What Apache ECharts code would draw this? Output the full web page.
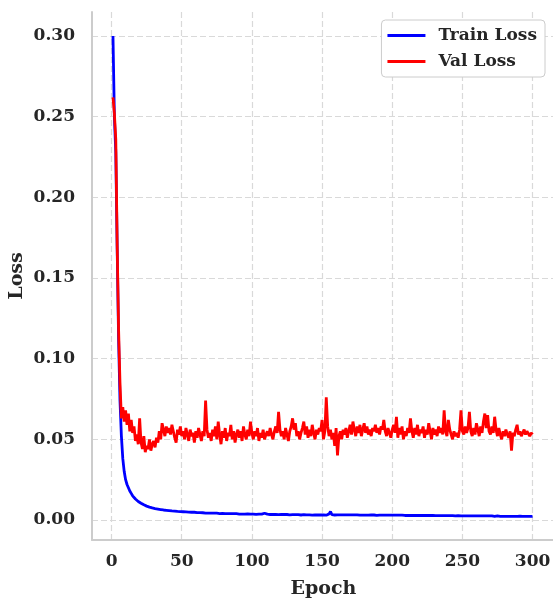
<!DOCTYPE html>
<html>
<head>
<meta charset="utf-8">
<script src="https://cdn.jsdelivr.net/npm/echarts@6/dist/echarts.min.js"></script>
<style>
  html, body { margin: 0; padding: 0; background: #fff; }
  #chart { width: 553px; height: 599px; }
</style>
</head>
<body>
<div id="chart"></div>
<script>
// losses, one value per epoch (1..300)
var trainLoss = [
  0.300, 0.250, 0.228, 0.168, 0.112, 0.074, 0.052, 0.038, 0.030, 0.025,
  0.022, 0.020, 0.018, 0.0165, 0.015, 0.014, 0.013, 0.0122, 0.0115, 0.011,
  0.0104, 0.0099, 0.0094, 0.0090, 0.0086, 0.0083, 0.0080, 0.0077, 0.0075, 0.0073,
  0.0071, 0.0069, 0.0068, 0.0066, 0.0065, 0.0063, 0.0062, 0.0061, 0.0060, 0.0059,
  0.0058, 0.0057, 0.0056, 0.0056, 0.0055, 0.0054, 0.0053, 0.0053, 0.0052, 0.0051,
  0.0051, 0.0050, 0.0050, 0.0049, 0.0049, 0.0048, 0.0048, 0.0047, 0.0048, 0.0046,
  0.0046, 0.0045, 0.0046, 0.0044, 0.0045, 0.0044, 0.0043, 0.0044, 0.0043, 0.0042,
  0.0043, 0.0042, 0.0042, 0.0041, 0.0042, 0.0041, 0.0040, 0.0047, 0.0041, 0.0040,
  0.0040, 0.0039, 0.0040, 0.0039, 0.0040, 0.0038, 0.0039, 0.0038, 0.0039, 0.0038,
  0.0037, 0.0038, 0.0037, 0.0038, 0.0036, 0.0037, 0.0038, 0.0036, 0.0037, 0.0036,
  0.0037, 0.0036, 0.0035, 0.0036, 0.0037, 0.0035, 0.0036, 0.0035, 0.0042, 0.0035,
  0.0036, 0.0035, 0.0034, 0.0035, 0.0034, 0.0035, 0.0034, 0.0035, 0.0033, 0.0034,
  0.0035, 0.0033, 0.0034, 0.0033, 0.0034, 0.0033, 0.0032, 0.0039, 0.0033, 0.0032,
  0.0033, 0.0032, 0.0033, 0.0032, 0.0031, 0.0032, 0.0033, 0.0031, 0.0032, 0.0031,
  0.0032, 0.0031, 0.0030, 0.0031, 0.0032, 0.0030, 0.0031, 0.0030, 0.0031, 0.0030,
  0.0031, 0.0030, 0.0030, 0.0031, 0.0038, 0.0052, 0.0033, 0.0030, 0.0031, 0.0030,
  0.0032, 0.0033, 0.0032, 0.0033, 0.0032, 0.0033, 0.0032, 0.0031, 0.0032, 0.0031,
  0.0032, 0.0031, 0.0032, 0.0031, 0.0032, 0.0031, 0.0030, 0.0031, 0.0030, 0.0031,
  0.0030, 0.0031, 0.0030, 0.0038, 0.0031, 0.0030, 0.0031, 0.0030, 0.0029, 0.0030,
  0.0030, 0.0031, 0.0030, 0.0031, 0.0030, 0.0031, 0.0030, 0.0029, 0.0030, 0.0029,
  0.0030, 0.0029, 0.0030, 0.0029, 0.0030, 0.0029, 0.0030, 0.0029, 0.0028, 0.0029,
  0.0028, 0.0029, 0.0028, 0.0029, 0.0028, 0.0029, 0.0028, 0.0029, 0.0028, 0.0027,
  0.0028, 0.0027, 0.0028, 0.0027, 0.0028, 0.0027, 0.0028, 0.0027, 0.0028, 0.0027,
  0.0027, 0.0028, 0.0027, 0.0026, 0.0027, 0.0026, 0.0027, 0.0026, 0.0027, 0.0026,
  0.0027, 0.0026, 0.0027, 0.0026, 0.0025, 0.0026, 0.0027, 0.0026, 0.0025, 0.0026,
  0.0025, 0.0026, 0.0025, 0.0026, 0.0025, 0.0026, 0.0025, 0.0024, 0.0025, 0.0026,
  0.0025, 0.0024, 0.0025, 0.0024, 0.0025, 0.0024, 0.0025, 0.0024, 0.0025, 0.0024,
  0.0025, 0.0024, 0.0023, 0.0024, 0.0025, 0.0024, 0.0023, 0.0024, 0.0023, 0.0024,
  0.0023, 0.0024, 0.0023, 0.0024, 0.0023, 0.0024, 0.0023, 0.0024, 0.0023, 0.0023,
  0.0024, 0.0023, 0.0022, 0.0023, 0.0022, 0.0023, 0.0022, 0.0023, 0.0022, 0.0023
];

var valLoss = [
  0.262, 0.252, 0.236, 0.170, 0.118, 0.085, 0.063, 0.070, 0.061, 0.068,
  0.059, 0.066, 0.055, 0.062, 0.054, 0.058, 0.049, 0.053, 0.047, 0.063,
  0.048, 0.044, 0.052, 0.042, 0.046, 0.044, 0.050, 0.043, 0.047, 0.049,
  0.045, 0.051, 0.048, 0.055, 0.050, 0.060, 0.056, 0.052, 0.058, 0.054,
  0.057, 0.053, 0.059, 0.055, 0.051, 0.048, 0.056, 0.053, 0.058, 0.052,
  0.055, 0.050, 0.057, 0.053, 0.049, 0.056, 0.052, 0.054, 0.048, 0.055,
  0.051, 0.057, 0.053, 0.049, 0.055, 0.052, 0.074, 0.056, 0.051, 0.054,
  0.049, 0.056, 0.052, 0.058, 0.050, 0.061, 0.053, 0.047, 0.055, 0.051,
  0.057, 0.049, 0.054, 0.052, 0.059, 0.050, 0.055, 0.048, 0.053, 0.056,
  0.051, 0.055, 0.049, 0.058, 0.053, 0.050, 0.056, 0.052, 0.061, 0.054,
  0.050, 0.055, 0.052, 0.057, 0.049, 0.054, 0.051, 0.056, 0.050, 0.053,
  0.055, 0.052, 0.057, 0.053, 0.050, 0.055, 0.058, 0.054, 0.067, 0.056,
  0.052, 0.055, 0.050, 0.057, 0.053, 0.049, 0.055, 0.058, 0.063, 0.056,
  0.060, 0.052, 0.055, 0.050, 0.054, 0.057, 0.061, 0.053, 0.058, 0.051,
  0.056, 0.052, 0.059, 0.054, 0.050, 0.056, 0.053, 0.057, 0.055, 0.062,
  0.050, 0.055, 0.076, 0.058, 0.052, 0.056, 0.050, 0.054, 0.046, 0.057,
  0.040, 0.052, 0.055, 0.050, 0.056, 0.053, 0.057, 0.051, 0.055, 0.059,
  0.053, 0.061, 0.056, 0.052, 0.058, 0.054, 0.059, 0.052, 0.056, 0.060,
  0.054, 0.058, 0.053, 0.056, 0.052, 0.057, 0.055, 0.059, 0.054, 0.057,
  0.053, 0.058, 0.056, 0.062, 0.055, 0.052, 0.057, 0.054, 0.051, 0.056,
  0.059, 0.054, 0.064, 0.051, 0.057, 0.053, 0.058, 0.050, 0.055, 0.052,
  0.057, 0.054, 0.063, 0.055, 0.051, 0.057, 0.053, 0.059, 0.052, 0.056,
  0.054, 0.058, 0.051, 0.056, 0.053, 0.060, 0.055, 0.050, 0.057, 0.053,
  0.056, 0.052, 0.058, 0.054, 0.057, 0.053, 0.068, 0.055, 0.052, 0.062,
  0.056, 0.053, 0.050, 0.055, 0.052, 0.054, 0.051, 0.056, 0.068, 0.055,
  0.053, 0.058, 0.054, 0.057, 0.067, 0.055, 0.052, 0.057, 0.053, 0.060,
  0.056, 0.052, 0.058, 0.054, 0.061, 0.066, 0.057, 0.065, 0.055, 0.053,
  0.058, 0.054, 0.064, 0.056, 0.052, 0.057, 0.053, 0.050, 0.055, 0.052,
  0.056, 0.053, 0.051, 0.055, 0.043, 0.054, 0.052, 0.056, 0.059, 0.053,
  0.055, 0.052, 0.054, 0.056, 0.053, 0.055, 0.054, 0.052, 0.054, 0.053
];

var xTicks = [0, 50, 100, 150, 200, 250, 300];
var yTicks = [0, 0.05, 0.10, 0.15, 0.20, 0.25, 0.30];

var epochs = [];
for (var i = 1; i <= trainLoss.length; i++) epochs.push(i);

var trainData = epochs.map(function (e, i) { return [e, trainLoss[i]]; });
var valData = epochs.map(function (e, i) { return [e, valLoss[i]]; });

var font = 'DejaVu Serif';
var gridLine = { show: true, lineStyle: { color: '#d9d9d9', width: 1.2, type: [6, 3] } };
var spine = { show: true, onZero: false, lineStyle: { color: '#cccccc', width: 2 } };

var myChart = echarts.init(document.getElementById('chart'));

var option = {
  animation: false,
  backgroundColor: '#ffffff',
  grid: { left: 92, right: -2, top: 12, bottom: 59, containLabel: false, outerBoundsMode: 'none' },
  legend: {
    orient: 'vertical',
    right: 8,
    top: 20,
    padding: [7, 8, 7, 6],
    itemGap: 9,
    itemWidth: 38,
    itemHeight: 3,
    icon: 'rect',
    borderColor: '#cccccc',
    borderWidth: 1,
    borderRadius: 4,
    backgroundColor: '#ffffff',
    textStyle: { fontFamily: font, fontWeight: 'bold', fontSize: 17, color: '#262626', padding: [0, 0, 0, 8] },
    data: ['Train Loss', 'Val Loss']
  },
  xAxis: {
    type: 'value',
    min: -13.95,
    max: 316,
    name: 'Epoch',
    nameLocation: 'middle',
    nameGap: 40,
    nameMoveOverlap: false,
    nameTextStyle: { fontFamily: font, fontWeight: 'bold', fontSize: 19, color: '#262626' },
    axisLine: spine,
    axisTick: { show: false, customValues: xTicks },
    axisLabel: {
      customValues: xTicks,
      margin: 13,
      fontFamily: font, fontWeight: 'bold', fontSize: 17, color: '#262626'
    },
    splitLine: gridLine
  },
  yAxis: {
    type: 'value',
    min: -0.0124,
    max: 0.3149,
    name: 'Loss',
    nameLocation: 'middle',
    nameGap: 65,
    nameRotate: 90,
    nameMoveOverlap: false,
    nameTextStyle: { fontFamily: font, fontWeight: 'bold', fontSize: 19, color: '#262626' },
    axisLine: spine,
    axisTick: { show: false, customValues: yTicks },
    axisLabel: {
      customValues: yTicks,
      margin: 17,
      formatter: function (v) { return v.toFixed(2); },
      fontFamily: font, fontWeight: 'bold', fontSize: 17, color: '#262626'
    },
    splitLine: gridLine
  },
  series: [
    {
      name: 'Train Loss',
      type: 'line',
      data: trainData,
      showSymbol: false,
      lineStyle: { color: '#0000ff', width: 2.8 },
      itemStyle: { color: '#0000ff' }
    },
    {
      name: 'Val Loss',
      type: 'line',
      data: valData,
      showSymbol: false,
      lineStyle: { color: '#ff0000', width: 2.8 },
      itemStyle: { color: '#ff0000' }
    }
  ]
};

myChart.setOption(option);
</script>
</body>
</html>
